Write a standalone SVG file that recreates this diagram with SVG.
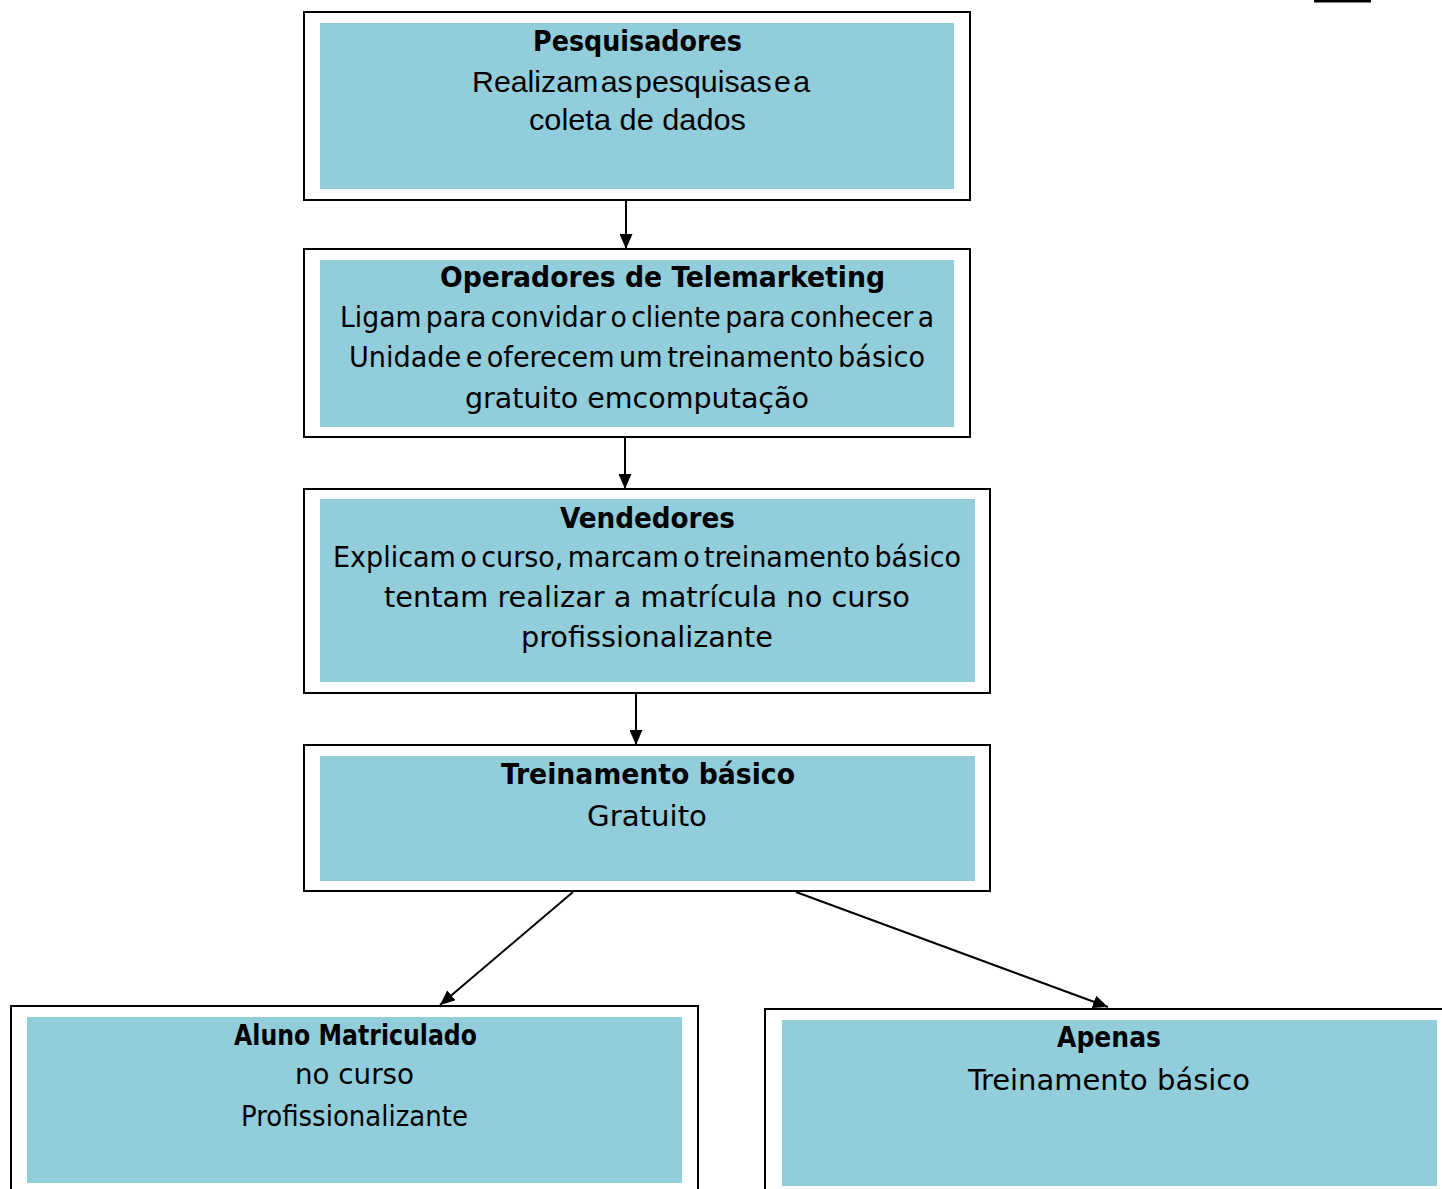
<svg xmlns="http://www.w3.org/2000/svg" width="1442" height="1189" viewBox="0 0 1442 1189">
<style>
.outer{fill:#ffffff;stroke:#000000;stroke-width:2}
.inner{fill:#92CDDC;stroke:none}
.t{font-family:"DejaVu Sans Condensed","DejaVu Sans","Liberation Sans",sans-serif;font-size:29px;text-anchor:middle;fill:#000000}
.a{font-family:"Liberation Sans",Arial,sans-serif;font-size:30px}
.b{font-weight:bold}
.conn{stroke:#000000;stroke-width:2;fill:none}
</style>
<defs>
<marker id="ah" viewBox="0 0 15 13" refX="15" refY="6.5" markerWidth="15" markerHeight="13" orient="auto" markerUnits="userSpaceOnUse">
<path d="M0,0 L15,6.5 L0,13 z" fill="#000000"/>
</marker>
</defs>
<rect x="1314" y="0" width="57" height="2.5" fill="#000000"/>
<g id="pesquisadores">
<rect class="outer" x="304" y="12" width="666" height="188"/>
<rect class="inner" x="320" y="23" width="634" height="166"/>
<text class="t b" x="637.5" y="51" textLength="209" lengthAdjust="spacingAndGlyphs">Pesquisadores</text>
<text class="t a" x="641" y="92" textLength="338" lengthAdjust="spacingAndGlyphs" word-spacing="-6">Realizam as pesquisas e a</text>
<text class="t a" x="637.5" y="130" textLength="217" lengthAdjust="spacingAndGlyphs">coleta de dados</text>
</g>
<g id="operadores">
<rect class="outer" x="304" y="249" width="666" height="188"/>
<rect class="inner" x="320" y="260" width="634" height="167"/>
<text class="t b" x="662.5" y="287" textLength="445" lengthAdjust="spacingAndGlyphs">Operadores de Telemarketing</text>
<text class="t" x="637" y="327" textLength="594" lengthAdjust="spacingAndGlyphs" word-spacing="-4">Ligam para convidar o cliente para conhecer a</text>
<text class="t" x="637" y="367" textLength="576" lengthAdjust="spacingAndGlyphs" word-spacing="-4">Unidade e oferecem um treinamento básico</text>
<text class="t" x="637" y="408" textLength="344" lengthAdjust="spacingAndGlyphs">gratuito emcomputação</text>
</g>
<g id="vendedores">
<rect class="outer" x="304" y="489" width="686" height="204"/>
<rect class="inner" x="320" y="499" width="655" height="183"/>
<text class="t b" x="647.5" y="528" textLength="175" lengthAdjust="spacingAndGlyphs">Vendedores</text>
<text class="t" x="647" y="567" textLength="628" lengthAdjust="spacingAndGlyphs" word-spacing="-4">Explicam o curso, marcam o treinamento básico</text>
<text class="t" x="647" y="607" textLength="526" lengthAdjust="spacingAndGlyphs">tentam realizar a matrícula no curso</text>
<text class="t" x="647" y="647" textLength="252" lengthAdjust="spacingAndGlyphs">profissionalizante</text>
</g>
<g id="treinamento">
<rect class="outer" x="304" y="745" width="686" height="146"/>
<rect class="inner" x="320" y="756" width="655" height="125"/>
<text class="t b" x="648" y="784" textLength="294" lengthAdjust="spacingAndGlyphs">Treinamento básico</text>
<text class="t" x="647" y="826" textLength="120" lengthAdjust="spacingAndGlyphs">Gratuito</text>
</g>
<g id="aluno">
<rect class="outer" x="11" y="1006" width="687" height="200"/>
<rect class="inner" x="27" y="1017" width="655" height="166"/>
<text class="t b" x="355.5" y="1045" textLength="243" lengthAdjust="spacingAndGlyphs">Aluno Matriculado</text>
<text class="t" x="354.5" y="1084" textLength="119" lengthAdjust="spacingAndGlyphs">no curso</text>
<text class="t" x="354.5" y="1126" textLength="227" lengthAdjust="spacingAndGlyphs">Profissionalizante</text>
</g>
<g id="apenas">
<rect class="outer" x="765" y="1009" width="700" height="200"/>
<rect class="inner" x="782" y="1020" width="655" height="166"/>
<text class="t b" x="1109" y="1047" textLength="104" lengthAdjust="spacingAndGlyphs">Apenas</text>
<text class="t" x="1109" y="1090" textLength="282" lengthAdjust="spacingAndGlyphs">Treinamento básico</text>
</g>
<g id="connectors">
<line class="conn" x1="626" y1="201" x2="626" y2="249" marker-end="url(#ah)"/>
<line class="conn" x1="625" y1="438" x2="625" y2="489" marker-end="url(#ah)"/>
<line class="conn" x1="636" y1="694" x2="636" y2="745" marker-end="url(#ah)"/>
<line class="conn" x1="573" y1="892" x2="440" y2="1005" marker-end="url(#ah)"/>
<line class="conn" x1="796" y1="892" x2="1108" y2="1007" marker-end="url(#ah)"/>
</g>
</svg>
